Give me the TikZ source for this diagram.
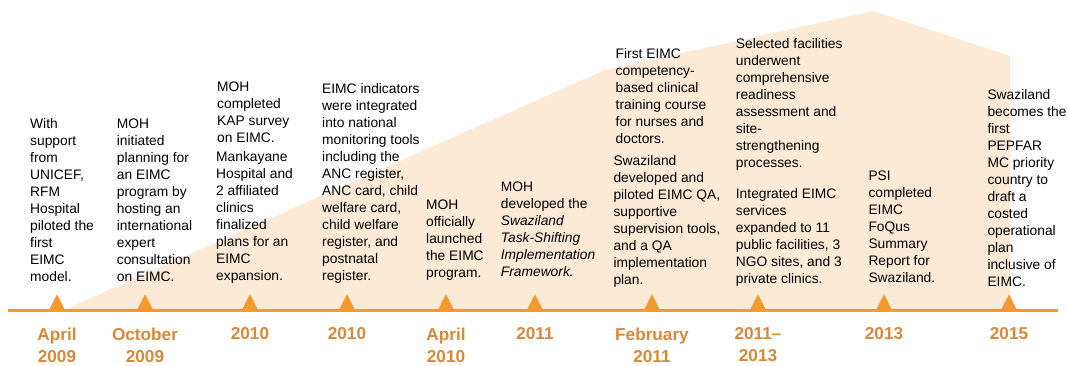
\documentclass[tikz,border=0pt]{standalone}
\usepackage{fontspec}
\setmainfont{Liberation Sans}
\usetikzlibrary{positioning}
\definecolor{lineorange}{HTML}{F39A2C}
\definecolor{dateorange}{HTML}{DA8838}
\definecolor{peach}{HTML}{FCE9D6}

\begin{document}
\begin{tikzpicture}[x=1pt,y=-1pt,
  event/.style={anchor=north west,inner sep=0pt,align=left,
    font=\fontsize{13.8}{17}\selectfont},
  date/.style={anchor=north,inner sep=0pt,align=center,text=dateorange,
    font=\fontsize{17.2}{22}\selectfont\bfseries}]
  \useasboundingbox (0,0) rectangle (1068,365);

  % background band
  \fill[peach] (64,310) -- (605,70) -- (873,11) -- (1010,56) -- (1010,310) -- cycle;

  % timeline
  \draw[lineorange,line width=3.5pt] (8,310.7) -- (1058,310.7);

  % markers and dates
  \foreach \x/\d [count=\i] in {
    57/{April\\2009}, 145/{October\\2009}, 250/{2010}, 347/{2010},
    446/{April\\2010}, 535/{2011}, 652/{February\\2011},
    758/{2011--\\2013}, 884/{2013}, 1009/{2015}}
  {
    \coordinate (t\i) at (\x,310);
    \fill[lineorange] (\x-8,310) -- (\x,294.3) -- (\x+8,310) -- cycle;
    \node[date,below=17.7pt of t\i] (d\i) {\d};
  }

  % events
  \node[event] (e1) at (30,118.3) {With\\support\\from\\UNICEF,\\RFM\\Hospital\\piloted the\\first\\EIMC\\model.};
  \node[event] (e2) at (116.7,118.3) {MOH\\initiated\\planning for\\an EIMC\\program by\\hosting an\\international\\expert\\consultation\\on EIMC.};
  \node[event] (e3a) at (217,81.7) {MOH\\completed\\KAP survey\\on EIMC.};
  \node[event] (e3b) at (216,151.7) {Mankayane\\Hospital and\\2 affiliated\\clinics\\finalized\\plans for an\\EIMC\\expansion.};
  \node[event] (e4) at (322,83.3) {EIMC indicators\\were integrated\\into national\\monitoring tools\\including the\\ANC register,\\ANC card, child\\welfare card,\\child welfare\\register, and\\postnatal\\register.};
  \node[event] (e5) at (426,200) {MOH\\officially\\launched\\the EIMC\\program.};
  \node[event] (e6) at (500.7,181.7) {MOH\\developed the\\\textit{Swaziland}\\\textit{Task-Shifting}\\\textit{Implementation}\\\textit{Framework.}};
  \node[event] (e7a) at (615.5,48.3) {First EIMC\\competency-\\based clinical\\training course\\for nurses and\\doctors.};
  \node[event] (e7b) at (613.3,155) {Swaziland\\developed and\\piloted EIMC QA,\\supportive\\supervision tools,\\and a QA\\implementation\\plan.};
  \node[event] (e8a) at (735.7,38.3) {Selected facilities\\underwent\\comprehensive\\readiness\\assessment and\\site-\\strengthening\\processes.};
  \node[event] (e8b) at (735.7,188.3) {Integrated EIMC\\services\\expanded to 11\\public facilities, 3\\NGO sites, and 3\\private clinics.};
  \node[event] (e9) at (868.3,170.7) {PSI\\completed\\EIMC\\FoQus\\Summary\\Report for\\Swaziland.};
  \node[event] (e10) at (987.3,89.3) {Swaziland\\becomes the\\first\\PEPFAR\\MC priority\\country to\\draft a\\costed\\operational\\plan\\inclusive of\\EIMC.};
\end{tikzpicture}
\end{document}
